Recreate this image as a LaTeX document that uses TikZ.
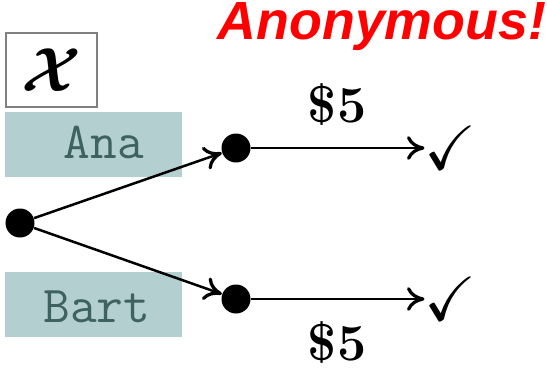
\documentclass[tikz,border=0pt]{standalone}
\usepackage{fontspec}
\usepackage{amsmath}
\usepackage{amssymb}
\usepackage{bm}
\usetikzlibrary{arrows.meta}
\newfontfamily\anonfont{Liberation Sans}
\definecolor{boxteal}{RGB}{180,207,207}
\definecolor{textteal}{RGB}{62,98,98}

\begin{document}
\begin{tikzpicture}[x=0.4pt,y=-0.4pt,
  dot/.style={circle,fill=black,inner sep=0pt,minimum size=11.6pt},
  namebox/.style={fill=boxteal,inner sep=0pt,minimum width=70.8pt,minimum height=26pt},
  nametext/.style={text=textteal,font=\huge\ttfamily,inner sep=0pt},
  pay/.style={font=\huge\bfseries,inner sep=0pt},
  tick/.style={font=\fontsize{25}{28}\selectfont,inner sep=0pt},
  branch/.style={line width=1pt,-{Computer Modern Rightarrow[length=7pt,width=9.5pt,line width=1.3pt]}}]
\useasboundingbox (0,0) rectangle (547,368);
                    \node[draw=gray,line width=1pt,minimum width=36.4pt,minimum height=29.6pt,inner sep=0pt] (X) at (51.5,70) {\Huge$\bm{\mathcal{X}}$};
                    \node[red,inner sep=0pt,font=\anonfont\bfseries\itshape\fontsize{21.5}{24}\selectfont] (anon) at (382,27) {Anonymous!};
                    \node[namebox] (anabox) at (93.5,144.5) {};
                    \node[nametext] (ana) at (104,142) {Ana};
                    \node[namebox] (bartbox) at (93.5,304.5) {};
                    \node[nametext] (bart) at (97,307) {Bart};
                    \node[dot] (R) at (20,223) {};
                    \node[dot] (A) at (236,148) {};
                    \node[dot] (B) at (236,299) {};
                    \node[tick] (TA) at (451,148) {$\checkmark$};
                    \node[tick] (TB) at (451,299) {$\checkmark$};
                    \node[pay] (PA) at (337,105) {\$5};
                    \node[pay] (PB) at (337,342) {\$5};
                    \path[branch]
                    (R) edge (A)
                    (R) edge (B)
                    (A) edge (TA.west |- A)
                    (B) edge (TB.west |- B);
                    \end{tikzpicture}
\end{document}
